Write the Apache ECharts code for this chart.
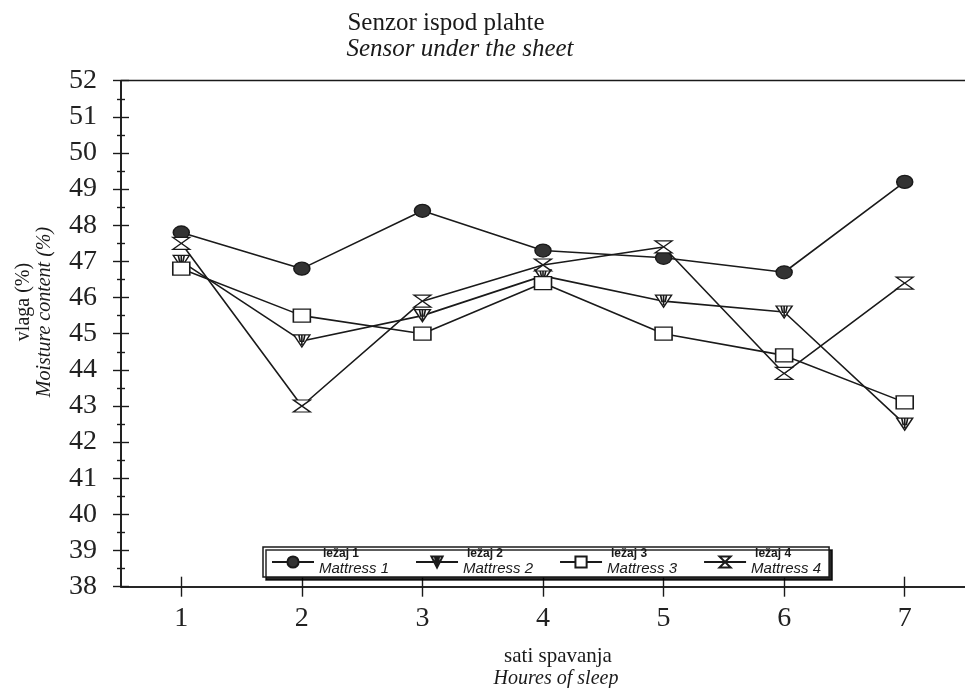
<!DOCTYPE html>
<html>
<head>
<meta charset="utf-8">
<script src="https://cdn.jsdelivr.net/npm/echarts@6/dist/echarts.min.js"></script>
<style>html,body{margin:0;padding:0;background:#fff}#c{width:965px;height:688px}</style>
</head>
<body>
<div id="c"></div>
<script>
const hours = ['1', '2', '3', '4', '5', '6', '7'];
const mattress1 = [47.8, 46.8, 48.4, 47.3, 47.1, 46.7, 49.2];
const mattress2 = [47.0, 44.8, 45.5, 46.6, 45.9, 45.6, 42.5];
const mattress3 = [46.8, 45.5, 45.0, 46.4, 45.0, 44.4, 43.1];
const mattress4 = [47.5, 43.0, 45.9, 46.9, 47.4, 43.9, 46.4];
const namesHr = ['ležaj 1', 'ležaj 2', 'ležaj 3', 'ležaj 4'];
const namesEn = ['Mattress 1', 'Mattress 2', 'Mattress 3', 'Mattress 4'];
const yMin = 38, yMax = 52, yStep = 1;

const SERIF = '"Liberation Serif", "DejaVu Serif", serif';
const SANS = '"Liberation Sans", Arial, sans-serif';
const INK = '#1a1a1a';

const triPath = 'path://M0,0 L16,0 L8,12 Z M5,0 L6.5,7 M8,0 L8,10 M11,0 L9.5,7';
const glassPath = 'path://M0,0 L16,0 L0,12 L16,12 Z';

const chart = echarts.init(document.getElementById('c'));

function mkSeries(name, data, symbol, size, fill, yIdx, xIdx) {
  return {
    name: name, type: 'line', data: data,
    xAxisIndex: xIdx, yAxisIndex: yIdx,
    symbol: symbol, symbolSize: size,
    showAllSymbol: true,
    lineStyle: { color: INK, width: 1.6 },
    itemStyle: { color: fill, borderColor: INK, borderWidth: 1.4 },
    emphasis: { disabled: true },
    animation: false
  };
}

const axisLineStyle = { show: true, lineStyle: { color: INK, width: 1.6 } };
const tickStyle = { color: INK, width: 1.4 };

const yCommon = {
  type: 'value', min: yMin, max: yMax, interval: yStep, position: 'left',
  splitLine: { show: false }, axisLine: axisLineStyle
};
const xCommon = {
  type: 'category', data: hours, boundaryGap: true, position: 'bottom',
  splitLine: { show: false }, axisLine: axisLineStyle
};

chart.setOption({
  animation: false,
  grid: { left: 121, right: 0, top: 80.7, bottom: 101.3, containLabel: false },
  xAxis: [
    Object.assign({}, xCommon, {
      axisTick: { show: true, alignWithLabel: true, interval: 0, inside: false, length: 10, lineStyle: tickStyle },
      axisLabel: { margin: 18, fontFamily: SERIF, fontSize: 28, color: '#222' }
    }),
    Object.assign({}, xCommon, {
      axisTick: { show: true, alignWithLabel: true, interval: 0, inside: true, length: 10, lineStyle: tickStyle },
      axisLabel: { show: false }
    }),
    {
      type: 'category', data: hours, boundaryGap: true, position: 'top',
      axisLine: { show: true, lineStyle: { color: INK, width: 1.4 } },
      axisTick: { show: false }, axisLabel: { show: false }, splitLine: { show: false }
    }
  ],
  yAxis: [
    Object.assign({}, yCommon, {
      axisTick: { show: true, inside: false, length: 8, lineStyle: tickStyle },
      minorTick: { show: true, splitNumber: 2, length: 4, lineStyle: tickStyle },
      axisLabel: { margin: 24, fontFamily: SERIF, fontSize: 28, color: '#222' }
    }),
    Object.assign({}, yCommon, {
      axisTick: { show: true, inside: true, length: 8, lineStyle: tickStyle },
      minorTick: { show: true, splitNumber: 2, length: 4, lineStyle: tickStyle },
      axisLabel: { show: false }
    })
  ],
  legend: {
    data: namesHr,
    left: 263, top: 547,
    orient: 'horizontal',
    padding: [1, 8, 1, 8],
    itemWidth: 42, itemHeight: 14, itemGap: 26,
    backgroundColor: '#fff',
    borderColor: INK, borderWidth: 1.5, borderRadius: 0,
    shadowColor: 'rgba(0,0,0,0.85)', shadowBlur: 0, shadowOffsetX: 3, shadowOffsetY: 3,
    selectedMode: false,
    formatter: function (name) {
      const i = namesHr.indexOf(name);
      return '{a|' + name + '}\n{b|' + namesEn[i] + '}';
    },
    textStyle: {
      color: INK,
      rich: {
        a: { fontFamily: SANS, fontSize: 12, fontWeight: 'bold', lineHeight: 13, color: INK, padding: [0, 0, 0, 4] },
        b: { fontFamily: SANS, fontSize: 15, fontStyle: 'italic', lineHeight: 16, color: INK }
      }
    }
  },
  graphic: [
    { type: 'text', x: 446, y: 23, style: { text: 'Senzor ispod plahte', font: '25px ' + SERIF, fill: INK, align: 'center', verticalAlign: 'middle' } },
    { type: 'text', x: 460, y: 49.5, style: { text: 'Sensor under the sheet', font: 'italic 25px ' + SERIF, fill: INK, align: 'center', verticalAlign: 'middle' } },
    { type: 'text', x: 558, y: 656, style: { text: 'sati spavanja', font: '21px ' + SERIF, fill: INK, align: 'center', verticalAlign: 'middle' } },
    { type: 'text', x: 556, y: 679, style: { text: 'Houres of sleep', font: 'italic 20px ' + SERIF, fill: INK, align: 'center', verticalAlign: 'middle' } },
    { type: 'text', x: 24, y: 302, rotation: Math.PI / 2, style: { text: 'vlaga (%)', font: '20px ' + SERIF, fill: INK, align: 'center', verticalAlign: 'middle' } },
    { type: 'text', x: 45, y: 312, rotation: Math.PI / 2, style: { text: 'Moisture content (%)', font: 'italic 20px ' + SERIF, fill: INK, align: 'center', verticalAlign: 'middle' } }
  ],
  series: [
    mkSeries(namesHr[0], mattress1, 'circle', [16, 13], '#333', 0, 0),
    mkSeries(namesHr[1], mattress2, triPath, [16, 12], '#fff', 0, 1),
    mkSeries(namesHr[2], mattress3, 'rect', [17, 13], '#fff', 1, 0),
    mkSeries(namesHr[3], mattress4, glassPath, [17, 12], '#fff', 1, 1)
  ]
});
</script>
</body>
</html>
